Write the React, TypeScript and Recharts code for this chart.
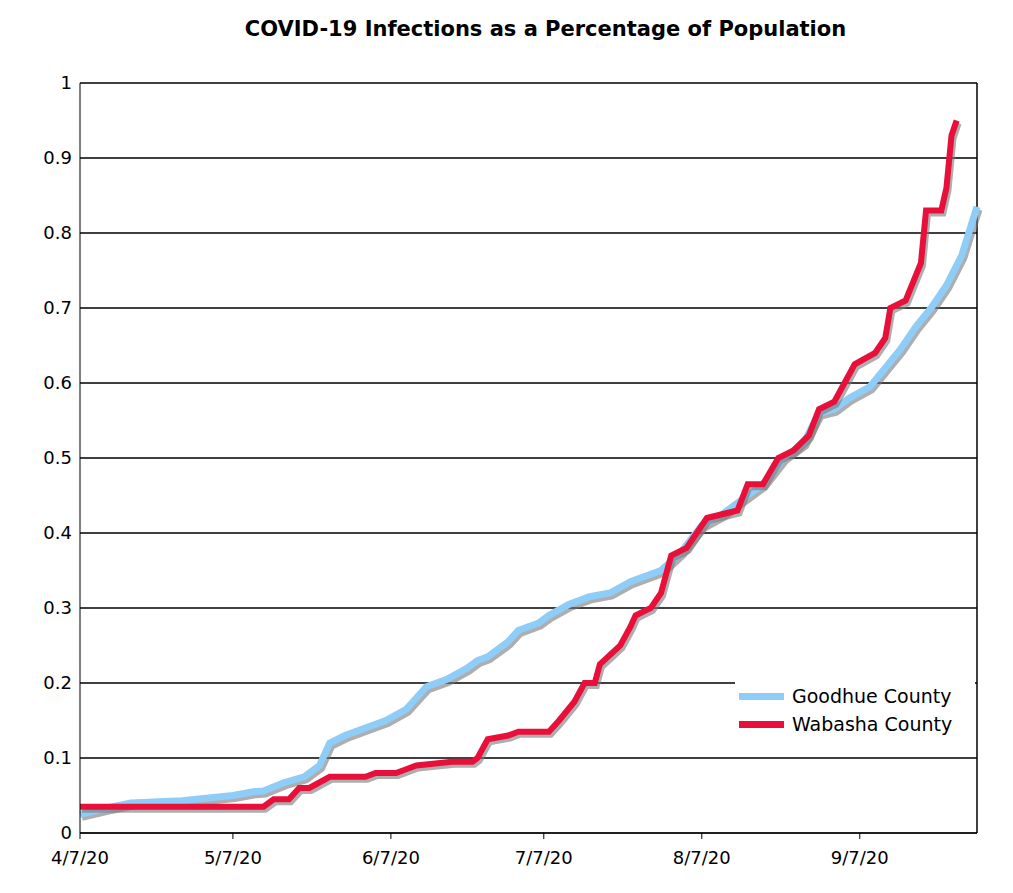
import { LineChart, Line, XAxis, YAxis, CartesianGrid, ReferenceLine } from "recharts"

// day index since 4/7/20
const goodhueDays = [0, 5, 10, 20, 30, 34, 36, 40, 44, 47, 49, 52, 56, 60, 64, 66, 68, 72, 76, 78, 80, 84, 86, 90, 92, 96, 100, 104, 108, 112, 114, 118, 122, 126, 130, 134, 138, 142, 145, 148, 151, 155, 158, 161, 164, 167, 170, 173, 176]
const goodhueVals = [0.025, 0.033, 0.04, 0.043, 0.05, 0.055, 0.056, 0.067, 0.075, 0.09, 0.12, 0.13, 0.14, 0.15, 0.165, 0.18, 0.195, 0.205, 0.22, 0.23, 0.235, 0.255, 0.27, 0.28, 0.29, 0.305, 0.315, 0.32, 0.335, 0.345, 0.35, 0.375, 0.41, 0.425, 0.445, 0.465, 0.5, 0.52, 0.56, 0.565, 0.58, 0.595, 0.62, 0.645, 0.675, 0.7, 0.73, 0.77, 0.835]

const wabashaDays = [0, 30, 36, 38, 41, 43, 45, 49, 56, 58, 62, 64, 66, 73, 77, 78, 80, 84, 86, 92, 94, 97, 99, 101, 102, 106, 108, 109, 112, 114, 116, 119, 121, 123, 126, 129, 131, 134, 137, 140, 143, 145, 148, 150, 152, 156, 158, 159, 162, 165, 166, 169, 170, 171, 172]
const wabashaVals = [0.035, 0.035, 0.035, 0.045, 0.045, 0.06, 0.06, 0.075, 0.075, 0.08, 0.08, 0.085, 0.09, 0.095, 0.095, 0.1, 0.125, 0.13, 0.135, 0.135, 0.15, 0.175, 0.2, 0.2, 0.225, 0.25, 0.275, 0.29, 0.3, 0.32, 0.37, 0.38, 0.4, 0.42, 0.425, 0.43, 0.465, 0.465, 0.5, 0.51, 0.53, 0.565, 0.575, 0.6, 0.625, 0.64, 0.66, 0.7, 0.71, 0.76, 0.83, 0.83, 0.86, 0.93, 0.95]

const xTicks = [0, 30, 61, 91, 122, 153]
const xTickLabels = ["4/7/20", "5/7/20", "6/7/20", "7/7/20", "8/7/20", "9/7/20"]
const yTicks = [0, 0.1, 0.2, 0.3, 0.4, 0.5, 0.6, 0.7, 0.8, 0.9, 1]

const goodhue = goodhueDays.map((d, i) => ({ day: d, value: goodhueVals[i] }))
const wabasha = wabashaDays.map((d, i) => ({ day: d, value: wabashaVals[i] }))

const font = "Verdana, 'DejaVu Sans', sans-serif"
const shadow = { filter: "drop-shadow(2px 3px 0px rgba(120,120,120,0.6))" }

export default function App() {
  return (
    <div style={{ position: "relative", width: 1005, height: 885, fontFamily: font }}>
      <div style={{ position: "absolute", top: 9, left: 0, width: 1005, textAlign: "center", paddingLeft: 70, boxSizing: "border-box", fontWeight: "bold", fontSize: 21 }}>
        COVID-19 Infections as a Percentage of Population
      </div>
      <LineChart width={1005} height={885} margin={{ top: 75, right: 36, bottom: 20, left: 12 }}>
        <CartesianGrid vertical={false} stroke="#000" strokeWidth={1.5} />
        <XAxis
          type="number"
          dataKey="day"
          domain={[0, 176]}
          ticks={xTicks}
          tickFormatter={(v) => xTickLabels[xTicks.indexOf(v)]}
          stroke="#000"
          tick={{ fill: "#000", fontSize: 18, fontFamily: font, dy: 10 }}
          tickSize={6}
          height={40}
        />
        <YAxis
          type="number"
          domain={[0, 1]}
          ticks={yTicks}
          stroke="#000"
          tickLine={false}
          tick={{ fill: "#000", fontSize: 18, fontFamily: font }}
          width={60}
        />
        <ReferenceLine x={176} stroke="#000" strokeWidth={1.5} />
        <Line data={goodhue} dataKey="value" type="linear" stroke="#8ecdf7" strokeWidth={7} dot={false} isAnimationActive={false} style={shadow} />
        <Line data={wabasha} dataKey="value" type="linear" stroke="#e8103a" strokeWidth={6} dot={false} isAnimationActive={false} style={shadow} />
      </LineChart>
      <div style={{ position: "absolute", left: 727, top: 670, width: 240, background: "#fff", fontSize: 19, padding: "4px 0" }}>
        <div style={{ display: "flex", alignItems: "center", height: 28 }}>
          <span style={{ display: "inline-block", width: 45, height: 7, background: "#8ecdf7", margin: "0 8px 0 4px" }} />
          Goodhue County
        </div>
        <div style={{ display: "flex", alignItems: "center", height: 28 }}>
          <span style={{ display: "inline-block", width: 45, height: 7, background: "#e8103a", margin: "0 8px 0 4px" }} />
          Wabasha County
        </div>
      </div>
    </div>
  )
}
